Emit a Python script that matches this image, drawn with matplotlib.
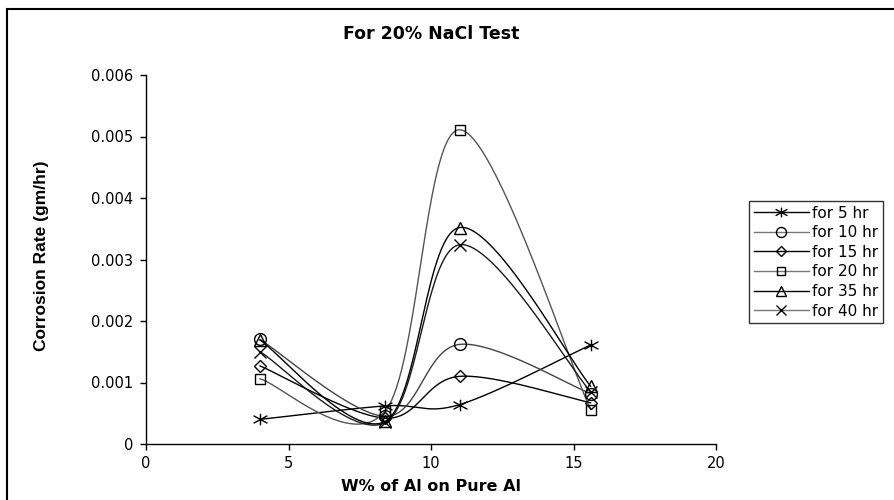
import numpy as np
import matplotlib
matplotlib.use("Agg")
import matplotlib.pyplot as plt
from matplotlib.lines import Line2D
from matplotlib.path import Path
from matplotlib.patches import Rectangle

# ---- data ----
x_vals = [4, 8.4, 11, 15.6]
labels = ["for 5 hr", "for 10 hr", "for 15 hr", "for 20 hr", "for 35 hr", "for 40 hr"]
hr5 = [0.00040, 0.00062, 0.00064, 0.00161]
hr10 = [0.00170, 0.00045, 0.00162, 0.00082]
hr15 = [0.00127, 0.00042, 0.00110, 0.00067]
hr20 = [0.00106, 0.00054, 0.00511, 0.00056]
hr35 = [0.00169, 0.00037, 0.00352, 0.00094]
hr40 = [0.00150, 0.00035, 0.00324, 0.00085]
series = [hr5, hr10, hr15, hr20, hr35, hr40]
x_ticks = [0, 5, 10, 15, 20]
y_ticks = [0, 0.001, 0.002, 0.003, 0.004, 0.005, 0.006]
y_tick_labels = ["0", "0.001", "0.002", "0.003", "0.004", "0.005", "0.006"]

plt.rcParams['font.family'] = ['DejaVu Sans']

star = Path([(0, -1), (0, 1), (-1.2, -0.65), (1.2, 0.65), (-1.2, 0.65), (1.2, -0.65)],
            [Path.MOVETO, Path.LINETO, Path.MOVETO, Path.LINETO, Path.MOVETO, Path.LINETO])
markers = [star, 'o', 'D', 's', '^', 'x']
msizes = [10, 8.5, 6.5, 7.5, 8.5, 8.5]
colors = ['#000000', '#444444', '#000000', '#555555', '#000000', '#1a1a1a']
leg_colors = ['#000000', '#777777', '#000000', '#777777', '#000000', '#777777']


def excel_smooth(xs, ys, n=60):
    pts = np.column_stack([xs, ys]).astype(float)
    m = len(pts)
    out = []
    t = np.linspace(0, 1, n)[:, None]
    for i in range(m - 1):
        p0 = pts[i - 1] if i > 0 else pts[i]
        p1 = pts[i]
        p2 = pts[i + 1]
        p3 = pts[i + 2] if i + 2 < m else pts[i + 1]
        c1 = p1 + (p2 - p0) / 6.0
        c2 = p2 - (p3 - p1) / 6.0
        seg = ((1 - t) ** 3) * p1 + 3 * ((1 - t) ** 2) * t * c1 + 3 * (1 - t) * t ** 2 * c2 + t ** 3 * p2
        out.append(seg if i == 0 else seg[1:])
    out = np.vstack(out)
    return out[:, 0], out[:, 1]


fig = plt.figure(figsize=(8.94, 5.0), dpi=100)
ax = fig.add_axes([146 / 894, 56 / 500, 570 / 894, 369 / 500])

for ys, mk, ms, c in zip(series, markers, msizes, colors):
    sx, sy = excel_smooth(x_vals, ys)
    ax.plot(sx, sy, color=c, lw=1.0, zorder=2)
    ax.plot(x_vals, ys, linestyle='none', marker=mk, markersize=ms,
            markerfacecolor='none', markeredgecolor='#000000', markeredgewidth=1.0, zorder=3)

ax.set_xlim(0, 20)
ax.set_ylim(0, 0.006)
ax.set_xticks(x_ticks)
ax.set_xticklabels([str(v) for v in x_ticks])
ax.set_yticks(y_ticks)
ax.set_yticklabels(y_tick_labels)
for s in ['top', 'right']:
    ax.spines[s].set_visible(False)
for s in ['left', 'bottom']:
    ax.spines[s].set_linewidth(1.0)
    ax.spines[s].set_color('#000000')
ax.tick_params(axis='both', direction='out', length=4, width=1, labelsize=10.5, pad=5)

ax.set_title("For 20% NaCl Test", fontsize=12.5, fontweight='bold', y=1.075)
ax.set_xlabel("W% of Al on Pure Al", fontsize=11.5, fontweight='bold')
ax.xaxis.set_label_coords(0.5, -0.095)
ax.set_ylabel("Corrosion Rate (gm/hr)", fontsize=12.5, fontweight='bold',
              family=['Liberation Sans Narrow', 'Liberation Sans'])
ax.yaxis.set_label_coords(-0.17, 0.51)

handles = [Line2D([], [], color=lc, lw=1.0, marker=mk, markersize=ms * 0.85,
                  markerfacecolor='none', markeredgecolor='#000000', markeredgewidth=1.0)
           for lc, mk, ms in zip(leg_colors, markers, msizes)]
leg = fig.legend(handles, labels, loc='upper left', bbox_to_anchor=(749 / 894, 1 - 201 / 500),
                 fontsize=11, frameon=True, fancybox=False, shadow=False,
                 borderpad=0.3, labelspacing=0.3, handlelength=3.6, handletextpad=0.25,
                 borderaxespad=0)
leg.get_frame().set_edgecolor('#000000')
leg.get_frame().set_linewidth(1.0)

fig.patches.append(Rectangle((7 / 894, -0.05), 1.2, 1 - 9 / 500 + 0.05, transform=fig.transFigure,
                             fill=False, edgecolor='#000000', linewidth=1.5))

fig.savefig("out.png", dpi=100)
